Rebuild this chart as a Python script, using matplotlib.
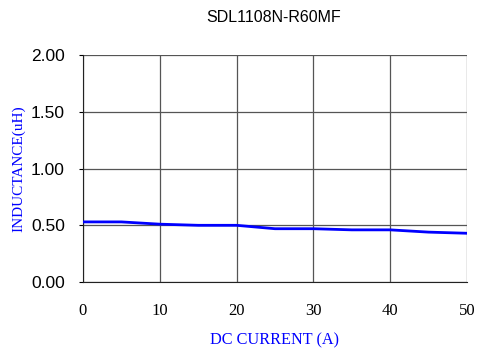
import matplotlib
matplotlib.use("Agg")
import matplotlib.pyplot as plt

current = [0, 5, 10, 15, 20, 25, 30, 35, 40, 45, 50]
inductance = [0.53, 0.53, 0.51, 0.50, 0.50, 0.47, 0.47, 0.46, 0.46, 0.44, 0.43]
x_ticks = [0, 10, 20, 30, 40, 50]
y_ticks = [0.0, 0.5, 1.0, 1.5, 2.0]

fig = plt.figure(figsize=(4.78, 3.5), dpi=100)
ax = fig.add_axes([0.1736, 0.194, 0.8034, 0.649])

ax.plot(current, inductance, color="#0000ff", lw=2, zorder=3)

ax.set_xlim(0, 50)
ax.set_ylim(0, 2)
ax.set_xticks(x_ticks)
ax.set_yticks(y_ticks)
ax.set_yticklabels(["%.2f" % v for v in y_ticks], family="Liberation Sans", fontsize=12.5)
ax.set_xticklabels([str(v) for v in x_ticks], family="Liberation Serif", fontsize=12)
ax.grid(True, color="#555555", lw=0.9)
for s in ["top", "right"]:
    ax.spines[s].set_visible(False)
for s in ["left", "bottom"]:
    ax.spines[s].set_color("#222222")
ax.tick_params(axis="x", length=0, pad=15)
ax.tick_params(axis="y", length=3, pad=10)

ax.set_xlabel("DC CURRENT (A)", family="Liberation Serif", fontsize=11.7, color="#0000ff", labelpad=10)
ax.set_ylabel("INDUCTANCE(uH)", family="Liberation Serif", fontsize=11, color="#0000ff", labelpad=4)
fig.text(0.573, 0.949, "SDL1108N-R60MF", family="Liberation Sans", fontsize=11.5, ha="center", va="center")

fig.savefig("out.png", dpi=100)
